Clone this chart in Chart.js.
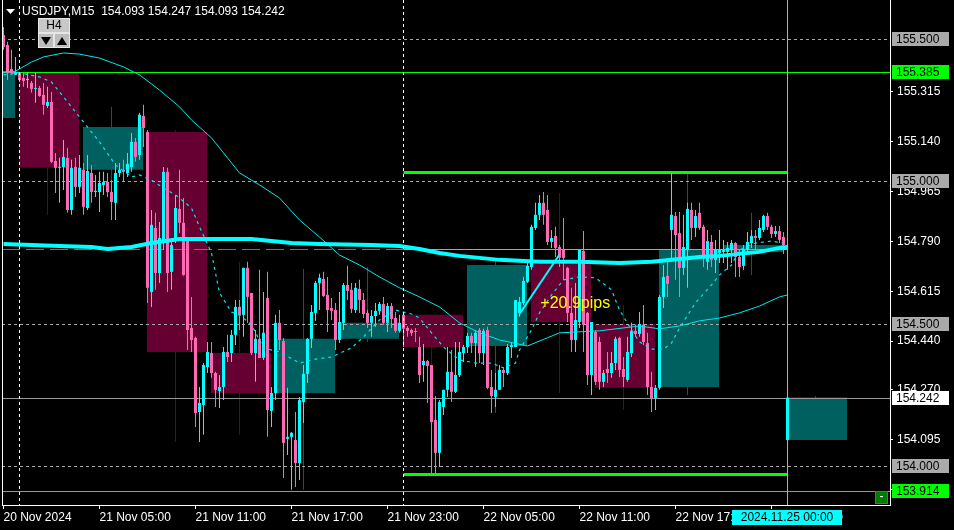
<!DOCTYPE html>
<html>
<head>
<meta charset="utf-8">
<script src="https://cdn.jsdelivr.net/npm/chart.js@4.4.1/dist/chart.umd.min.js"></script>
<style>
  html, body { margin: 0; padding: 0; background: #000; }
  #wrap { width: 954px; height: 530px; }
  canvas { display: block; background: #000; }
</style>
</head>
<body>
<div id="wrap"><canvas id="chart" width="954" height="530"></canvas></div>
<script>
// USDJPY M15, 20 Nov 23:00 -> 22 Nov 23:45, plus the first bar of 25 Nov
const opens = [
  155.514, 155.479, 155.395, 155.374, 155.381, 155.363, 155.356, 155.346, 155.325, 155.328,
  155.304, 155.265, 155.279, 155.072, 155.048, 155.051, 155.083, 154.900, 155.051, 154.981,
  155.041, 154.907, 155.030, 154.963, 154.963, 154.988, 154.998, 154.963, 154.925, 155.030,
  155.041, 155.030, 155.051, 155.139, 155.093, 155.230, 155.174, 154.612, 154.837, 154.679,
  154.788, 155.034, 154.683, 154.795, 154.904, 154.855, 154.795, 154.486, 154.451, 154.191,
  154.216, 154.349, 154.398, 154.328, 154.265, 154.279, 154.402, 154.398, 154.462, 154.560,
  154.532, 154.697, 154.609, 154.398, 154.448, 154.381, 154.591, 154.195, 154.258, 154.504,
  154.440, 154.097, 154.104, 154.093, 154.012, 154.226, 154.325, 154.448, 154.539, 154.644,
  154.658, 154.602, 154.556, 154.549, 154.444, 154.504, 154.637, 154.620, 154.549, 154.623,
  154.584, 154.539, 154.504, 154.528, 154.546, 154.570, 154.504, 154.563, 154.521, 154.476,
  154.532, 154.486, 154.479, 154.472, 154.419, 154.356, 154.370, 154.356, 154.163, 154.048,
  154.209, 154.269, 154.332, 154.262, 154.321, 154.398, 154.419, 154.458, 154.433, 154.479,
  154.398, 154.479, 154.279, 154.244, 154.269, 154.339, 154.328, 154.419, 154.419, 154.539,
  154.574, 154.648, 154.700, 154.837, 154.883, 154.925, 154.900, 154.788, 154.809, 154.770,
  154.760, 154.697, 154.539, 154.444, 154.507, 154.756, 154.539, 154.321, 154.472, 154.437,
  154.297, 154.342, 154.328, 154.363, 154.451, 154.342, 154.304, 154.398, 154.476, 154.465,
  154.497, 154.433, 154.279, 154.240, 154.276, 154.595, 154.669, 154.830, 154.879, 154.819,
  154.697, 154.763, 154.900, 154.837, 154.890, 154.841, 154.718, 154.788, 154.725, 154.749,
  154.753, 154.753, 154.760, 154.784, 154.735, 154.704, 154.760, 154.784, 154.809, 154.802,
  154.830, 154.879, 154.841, 154.816, 154.826, 154.805, 154.093
];
const highs = [
  155.542, 155.490, 155.462, 155.437, 155.384, 155.381, 155.384, 155.353, 155.381, 155.335,
  155.346, 155.332, 155.314, 155.100, 155.083, 155.146, 155.118, 155.076, 155.083, 155.093,
  155.065, 155.093, 155.058, 155.023, 155.034, 155.034, 155.030, 155.005, 155.065, 155.065,
  155.076, 155.100, 155.170, 155.153, 155.241, 155.269, 155.181, 154.900, 154.890, 154.858,
  155.051, 155.048, 154.802, 154.953, 155.041, 154.942, 154.802, 154.595, 154.455, 154.279,
  154.363, 154.437, 154.437, 154.332, 154.321, 154.419, 154.462, 154.479, 154.584, 154.584,
  154.697, 154.718, 154.609, 154.479, 154.690, 154.612, 154.683, 154.279, 154.532, 154.549,
  154.451, 154.276, 154.121, 154.191, 154.244, 154.356, 154.451, 154.567, 154.651, 154.676,
  154.683, 154.665, 154.591, 154.574, 154.612, 154.644, 154.704, 154.644, 154.644, 154.655,
  154.609, 154.549, 154.549, 154.574, 154.577, 154.595, 154.574, 154.574, 154.542, 154.532,
  154.532, 154.493, 154.483, 154.486, 154.455, 154.430, 154.374, 154.356, 154.247, 154.233,
  154.269, 154.419, 154.409, 154.437, 154.437, 154.426, 154.469, 154.469, 154.479, 154.486,
  154.483, 154.490, 154.339, 154.328, 154.356, 154.349, 154.430, 154.437, 154.584, 154.595,
  154.665, 154.714, 154.848, 154.925, 154.953, 154.963, 154.953, 154.830, 154.841, 154.777,
  154.872, 154.700, 154.627, 154.644, 154.760, 154.826, 154.542, 154.507, 154.479, 154.455,
  154.339, 154.402, 154.402, 154.455, 154.455, 154.384, 154.455, 154.504, 154.497, 154.542,
  154.567, 154.469, 154.332, 154.286, 154.602, 154.707, 154.725, 155.030, 154.893, 154.893,
  154.883, 154.925, 154.925, 154.900, 154.925, 154.848, 154.830, 154.812, 154.795, 154.830,
  154.795, 154.788, 154.795, 154.788, 154.760, 154.777, 154.823, 154.830, 154.830, 154.865,
  154.883, 154.890, 154.848, 154.844, 154.844, 154.823, 154.247
];
const lows = [
  155.462, 155.356, 155.374, 155.374, 155.349, 155.332, 155.328, 155.311, 155.276, 155.297,
  155.234, 155.258, 155.065, 154.960, 154.925, 154.970, 154.890, 154.883, 154.946, 154.960,
  154.883, 154.900, 154.925, 154.946, 154.893, 154.953, 154.946, 154.865, 154.865, 155.016,
  154.998, 155.016, 155.034, 155.069, 155.076, 155.121, 154.574, 154.560, 154.620, 154.644,
  154.760, 154.612, 154.620, 154.784, 154.819, 154.669, 154.409, 154.402, 154.139, 154.086,
  154.111, 154.328, 154.311, 154.209, 154.205, 154.233, 154.367, 154.367, 154.426, 154.479,
  154.455, 154.504, 154.391, 154.297, 154.381, 154.374, 154.104, 154.139, 154.233, 154.409,
  153.960, 154.040, 153.918, 153.928, 153.953, 154.153, 154.293, 154.416, 154.511, 154.549,
  154.595, 154.472, 154.514, 154.409, 154.433, 154.479, 154.584, 154.539, 154.539, 154.539,
  154.521, 154.486, 154.455, 154.490, 154.532, 154.497, 154.472, 154.486, 154.469, 154.469,
  154.419, 154.455, 154.458, 154.437, 154.293, 154.297, 154.223, 153.977, 153.977, 153.998,
  154.181, 154.244, 154.226, 154.258, 154.314, 154.367, 154.398, 154.398, 154.349, 154.363,
  154.356, 154.272, 154.188, 154.209, 154.269, 154.279, 154.321, 154.381, 154.419, 154.525,
  154.567, 154.644, 154.690, 154.830, 154.865, 154.848, 154.777, 154.767, 154.735, 154.700,
  154.655, 154.507, 154.402, 154.402, 154.486, 154.402, 154.286, 154.251, 154.286, 154.269,
  154.279, 154.293, 154.311, 154.339, 154.314, 154.279, 154.297, 154.384, 154.455, 154.455,
  154.426, 154.251, 154.191, 154.198, 154.269, 154.556, 154.595, 154.718, 154.655, 154.595,
  154.672, 154.627, 154.795, 154.805, 154.830, 154.700, 154.690, 154.700, 154.679, 154.714,
  154.714, 154.690, 154.714, 154.665, 154.665, 154.690, 154.749, 154.767, 154.760, 154.795,
  154.823, 154.830, 154.802, 154.805, 154.784, 154.746, 154.093
];
const closes = [
  155.472, 155.381, 155.381, 155.384, 155.356, 155.353, 155.360, 155.325, 155.328, 155.300,
  155.269, 155.279, 155.069, 155.048, 155.051, 155.086, 154.900, 155.048, 154.981, 155.048,
  154.911, 155.037, 154.963, 154.967, 154.995, 154.998, 154.963, 154.928, 155.030, 155.041,
  155.034, 155.062, 155.139, 155.086, 155.234, 155.188, 154.627, 154.848, 154.679, 154.802,
  155.034, 154.679, 154.777, 154.907, 154.855, 154.672, 154.479, 154.444, 154.188, 154.223,
  154.356, 154.402, 154.328, 154.269, 154.279, 154.402, 154.384, 154.462, 154.560, 154.532,
  154.697, 154.595, 154.398, 154.448, 154.381, 154.469, 154.198, 154.258, 154.504, 154.444,
  154.083, 154.104, 154.118, 154.012, 154.233, 154.325, 154.448, 154.542, 154.644, 154.662,
  154.598, 154.549, 154.546, 154.444, 154.507, 154.637, 154.616, 154.553, 154.627, 154.584,
  154.535, 154.504, 154.528, 154.546, 154.570, 154.504, 154.563, 154.518, 154.476, 154.504,
  154.483, 154.476, 154.469, 154.472, 154.321, 154.370, 154.353, 154.156, 154.048, 154.226,
  154.269, 154.332, 154.262, 154.321, 154.402, 154.419, 154.458, 154.433, 154.469, 154.398,
  154.476, 154.276, 154.247, 154.269, 154.339, 154.328, 154.419, 154.426, 154.584, 154.577,
  154.651, 154.704, 154.841, 154.883, 154.925, 154.883, 154.788, 154.802, 154.767, 154.732,
  154.732, 154.539, 154.444, 154.514, 154.760, 154.497, 154.321, 154.507, 154.297, 154.297,
  154.328, 154.328, 154.363, 154.448, 154.339, 154.314, 154.402, 154.476, 154.465, 154.500,
  154.437, 154.279, 154.240, 154.276, 154.595, 154.665, 154.641, 154.883, 154.812, 154.697,
  154.770, 154.904, 154.837, 154.879, 154.837, 154.742, 154.791, 154.725, 154.760, 154.760,
  154.760, 154.767, 154.784, 154.735, 154.700, 154.760, 154.788, 154.809, 154.802, 154.837,
  154.879, 154.841, 154.816, 154.826, 154.795, 154.777, 154.242
];

// H4 candles drawn as boxes behind the M15 bars (start = first M15 bar index)
const h4Start = [-12, 4, 20, 36, 52, 68, 84, 100, 116, 132, 148, 164, 180, 196];
const h4Open  = [155.223, 155.381, 155.041, 155.174, 154.398, 154.258, 154.448, 154.532, 154.423, 154.711, 154.500, 154.279, 154.753, 154.093];
const h4Close = [155.388, 155.048, 155.191, 154.402, 154.258, 154.448, 154.504, 154.419, 154.707, 154.507, 154.276, 154.763, 154.777, 154.242];
const h4High  = [155.400, 155.381, 155.262, 155.181, 154.718, 154.693, 154.700, 154.532, 154.725, 154.960, 154.567, 155.030, 154.890, 154.247];
const h4Low   = [155.200, 154.883, 154.865, 154.086, 154.111, 153.918, 154.437, 153.977, 154.188, 154.258, 154.198, 154.251, 154.672, 154.093];

// moving averages, read at sample bars
const maSlowIdx = [0, 14, 22, 26, 32, 37, 44, 52, 62, 72, 79, 92, 99, 104, 109, 114, 119, 124, 134, 144, 154, 162, 164, 169, 174, 179, 184, 189, 194, 196];
const maSlowVal = [154.781, 154.774, 154.770, 154.763, 154.770, 154.784, 154.798, 154.798, 154.798, 154.784, 154.781, 154.777, 154.774, 154.763, 154.749, 154.739, 154.732, 154.725, 154.718, 154.718, 154.714, 154.718, 154.721, 154.728, 154.735, 154.739, 154.746, 154.753, 154.767, 154.770];
const maMidIdx = [0, 3, 7, 10, 15, 19, 24, 30, 34, 39, 44, 47, 52, 59, 64, 69, 74, 79, 84, 89, 94, 99, 104, 109, 114, 119, 124, 131, 139, 149, 159, 164, 169, 174, 179, 184, 189, 194, 196];
const maMidVal = [155.384, 155.387, 155.419, 155.437, 155.451, 155.447, 155.433, 155.402, 155.374, 155.321, 155.262, 155.216, 155.153, 155.030, 154.988, 154.942, 154.865, 154.805, 154.742, 154.707, 154.665, 154.627, 154.595, 154.560, 154.504, 154.469, 154.444, 154.423, 154.469, 154.476, 154.493, 154.483, 154.493, 154.511, 154.521, 154.539, 154.563, 154.595, 154.602];
const maFastIdx = [0, 4, 9, 12, 15, 19, 24, 28, 32, 34, 37, 40, 43, 47, 49, 52, 54, 57, 59, 62, 65, 69, 74, 78, 82, 87, 90, 94, 98, 102, 104, 107, 110, 114, 118, 122, 125, 128, 129, 132, 134, 137, 140, 144, 148, 152, 154, 157, 159, 162, 165, 167, 169, 173, 177, 179, 182, 184, 188, 192, 195];
const maFastVal = [155.374, 155.381, 155.367, 155.349, 155.297, 155.226, 155.139, 155.058, 155.016, 155.023, 155.005, 154.977, 154.953, 154.907, 154.841, 154.749, 154.609, 154.542, 154.532, 154.497, 154.416, 154.402, 154.363, 154.377, 154.384, 154.416, 154.455, 154.514, 154.549, 154.535, 154.521, 154.469, 154.419, 154.374, 154.363, 154.363, 154.346, 154.363, 154.409, 154.479, 154.539, 154.602, 154.655, 154.665, 154.662, 154.620, 154.549, 154.479, 154.437, 154.412, 154.412, 154.433, 154.486, 154.574, 154.637, 154.672, 154.707, 154.760, 154.784, 154.791, 154.784];

// trade line and its label
const tradeIdx = [129, 139];
const tradeVal = [154.535, 154.744];
const tradeText = '+20.9pips';
const tradeTextAt = [134.2, 154.556];

// levels
const roundLevels = [155.5, 155.0, 154.5, 154.0];
const outerLevels = [155.385, 153.914];
const dayRangeLevels = [155.032, 153.973];
const midLevel = 154.763;
const bidPrice = 154.242;
const daySeparators = [4, 100];
const dayStart = 100;
const currentBar = 196;

// axes
const priceTicks = [153.920, 154.095, 154.270, 154.440, 154.615, 154.790, 154.965, 155.140, 155.315];
const timeTickIdx = [0, 24, 48, 72, 96, 120, 144, 168, 192];
const timeTickLabels = ['20 Nov 2024', '21 Nov 05:00', '21 Nov 11:00', '21 Nov 17:00', '21 Nov 23:00', '22 Nov 05:00', '22 Nov 11:00', '22 Nov 17:00', '22 Nov 23:00'];
const axisTags = [
  { v: 155.500, bg: '#aaaaaa' },
  { v: 155.385, bg: '#00ff00' },
  { v: 155.000, bg: '#aaaaaa' },
  { v: 154.500, bg: '#aaaaaa' },
  { v: 154.242, bg: '#ffffff' },
  { v: 154.000, bg: '#aaaaaa' },
  { v: 153.914, bg: '#00ff00' }
];

const BULL = '#00ffff', BEAR = '#ff69b4', DOJI = '#00ff00';
const H4_BULL = '#005f5f', H4_BEAR = '#660033';
const FONT = '"Liberation Sans", Arial, sans-serif';

const bars = opens.map((_, i) => i);
const candleColor = bars.map(i => closes[i] > opens[i] ? BULL : (closes[i] < opens[i] ? BEAR : DOJI));
const h4Color = h4Start.map((_, k) => h4Close[k] >= h4Open[k] ? H4_BULL : H4_BEAR);
const pts = (xs, ys) => xs.map((v, k) => ({ x: v, y: ys[k] }));

function drawLevels(chart) {
  const { ctx, chartArea: a, scales: { x, y } } = chart;
  const py = v => Math.round(y.getPixelForValue(v)) + 0.5;
  const px = v => Math.floor(x.getPixelForValue(v)) + 0.5;
  ctx.save();
  ctx.beginPath();
  ctx.rect(a.left, a.top, a.right - a.left, a.bottom - a.top);
  ctx.clip();
  const hline = (v, x0, x1, color, w, dash) => {
    ctx.strokeStyle = color;
    ctx.lineWidth = w;
    ctx.setLineDash(dash || []);
    ctx.beginPath();
    ctx.moveTo(x0, py(v));
    ctx.lineTo(x1, py(v));
    ctx.stroke();
  };
  roundLevels.forEach(v => hline(v, a.left, a.right, '#a8a8a8', 1, [3, 3]));
  hline(midLevel, a.left, px(dayStart), '#00c000', 1, [18, 6]);
  hline(midLevel, px(dayStart), px(currentBar), '#33ff00', 1);
  hline(bidPrice, a.left, a.right, '#9a9a9a', 1);
  outerLevels.forEach(v => hline(v, a.left, a.right, '#00ff00', 1));
  dayRangeLevels.forEach(v => hline(v, px(dayStart), px(currentBar), '#00ff00', 3));
  ctx.restore();
}

const overlay = {
  id: 'overlay',
  afterDatasetDraw(chart, args) {
    // level lines sit above the H4 boxes but under the M15 bars
    if (chart.data.datasets[args.index].label === 'H4 wicks') drawLevels(chart);
  },
  afterDatasetsDraw(chart) {
    const { ctx, chartArea: a, scales: { x, y } } = chart;
    const px = v => Math.floor(x.getPixelForValue(v)) + 0.5;
    ctx.save();
    ctx.lineWidth = 1;
    ctx.strokeStyle = '#ffffff';
    ctx.setLineDash([3, 3]);
    daySeparators.forEach(i => {
      ctx.beginPath();
      ctx.moveTo(px(i), a.top);
      ctx.lineTo(px(i), a.bottom);
      ctx.stroke();
    });
    ctx.setLineDash([]);
    ctx.strokeStyle = '#40e0e0';
    ctx.beginPath();
    ctx.moveTo(px(currentBar), a.top);
    ctx.lineTo(px(currentBar), a.bottom);
    ctx.stroke();

    ctx.fillStyle = '#ffff00';
    ctx.font = '16px ' + FONT;
    ctx.textBaseline = 'alphabetic';
    ctx.fillText(tradeText, x.getPixelForValue(tradeTextAt[0]), y.getPixelForValue(tradeTextAt[1]));
    ctx.restore();
  },
  afterDraw(chart) {
    const { ctx, chartArea: a, scales: { x, y } } = chart;
    ctx.save();
    // left frame
    ctx.strokeStyle = '#ffffff';
    ctx.lineWidth = 1;
    ctx.beginPath();
    ctx.moveTo(a.left + 0.5, a.top);
    ctx.lineTo(a.left + 0.5, a.bottom);
    ctx.stroke();

    // price tags on the right axis
    ctx.font = '12px ' + FONT;
    ctx.textBaseline = 'middle';
    axisTags.forEach(t => {
      const yy = Math.round(y.getPixelForValue(t.v));
      ctx.fillStyle = t.bg;
      ctx.fillRect(a.right + 2, yy - 7, 57, 14);
      ctx.fillStyle = '#000000';
      ctx.fillText(t.v.toFixed(3), a.right + 6, yy + 0.5);
    });

    // header
    ctx.fillStyle = '#ffffff';
    ctx.beginPath();
    ctx.moveTo(6, 9); ctx.lineTo(15, 9); ctx.lineTo(10.5, 14); ctx.closePath();
    ctx.fill();
    ctx.fillText('USDJPY,M15  154.093 154.247 154.093 154.242', 22, 12);

    // H4 switch
    ctx.fillStyle = '#c8c8c8';
    ctx.fillRect(38, 18, 32, 15);
    ctx.fillStyle = '#bdbdbd';
    ctx.fillRect(38, 33, 16, 15);
    ctx.fillRect(54, 33, 16, 15);
    ctx.strokeStyle = '#e6e6e6';
    ctx.strokeRect(38.5, 18.5, 31, 14);
    ctx.strokeRect(38.5, 33.5, 15, 14);
    ctx.strokeRect(54.5, 33.5, 15, 14);
    ctx.fillStyle = '#000000';
    ctx.textAlign = 'center';
    ctx.fillText('H4', 54, 26);
    ctx.beginPath();
    ctx.moveTo(41, 37); ctx.lineTo(51, 37); ctx.lineTo(46, 45); ctx.closePath();
    ctx.moveTo(57, 45); ctx.lineTo(67, 45); ctx.lineTo(62, 37); ctx.closePath();
    ctx.fill();

    // current bar time on the time axis
    const cx = Math.floor(x.getPixelForValue(currentBar));
    ctx.fillStyle = '#00ffff';
    ctx.fillRect(cx - 55, 510, 110, 15);
    ctx.fillStyle = '#000000';
    ctx.fillText('2024.11.25 00:00', cx, 517.5);

    // small scroll box bottom-right
    ctx.fillStyle = '#007a00';
    ctx.fillRect(a.right - 15, a.bottom - 14, 13, 13);
    ctx.strokeStyle = '#00b000';
    ctx.strokeRect(a.right - 14.5, a.bottom - 13.5, 12, 12);
    ctx.fillStyle = '#ffffff';
    ctx.fillText('-', a.right - 8.5, a.bottom - 8);
    ctx.restore();
  }
};

Chart.defaults.font.family = FONT;
Chart.defaults.color = '#ffffff';

new Chart(document.getElementById('chart'), {
  type: 'bar',
  data: {
    datasets: [
      {
        type: 'line', label: 'Trade', order: 0,
        data: pts(tradeIdx, tradeVal),
        borderColor: '#00ffff', borderWidth: 2, pointRadius: 0
      },
      {
        type: 'line', label: 'MA slow', order: 1,
        data: pts(maSlowIdx, maSlowVal),
        borderColor: '#00ffff', borderWidth: 4, pointRadius: 0
      },
      {
        type: 'line', label: 'MA mid', order: 2,
        data: pts(maMidIdx, maMidVal),
        borderColor: '#00e8e8', borderWidth: 1, pointRadius: 0
      },
      {
        type: 'line', label: 'MA fast', order: 3,
        data: pts(maFastIdx, maFastVal),
        borderColor: '#00e8e8', borderWidth: 1.2, borderDash: [3, 4], pointRadius: 0
      },
      {
        label: 'Bodies', order: 4,
        data: bars.map(i => ({ x: i, y: [opens[i], closes[i]] })),
        backgroundColor: candleColor, barThickness: 3, minBarLength: 1
      },
      {
        label: 'Wicks', order: 5,
        data: bars.map(i => ({ x: i, y: [lows[i], highs[i]] })),
        backgroundColor: candleColor, barThickness: 1
      },
      {
        label: 'H4 wicks', order: 6,
        data: h4Start.map((s, k) => ({ x: s + 7, y: [h4Low[k], h4High[k]] })),
        backgroundColor: h4Color, barThickness: 1
      },
      {
        label: 'H4', order: 7,
        // box spans the 16 M15 bars of the H4 candle
        data: h4Start.map((s, k) => ({ x: s + 7.375, y: [h4Open[k], h4Close[k]] })),
        backgroundColor: h4Color, barThickness: 60
      }
    ]
  },
  options: {
    responsive: false,
    animation: false,
    events: [],
    layout: { padding: { left: 2, right: 0, top: 0, bottom: 0 } },
    datasets: {
      bar: { grouped: false, borderWidth: 0, inflateAmount: 0 },
      line: { tension: 0, fill: false }
    },
    plugins: { legend: { display: false }, tooltip: { enabled: false } },
    scales: {
      x: {
        type: 'linear',
        offset: false,
        min: -0.375,
        max: 221.625,
        afterBuildTicks: s => { s.ticks = timeTickIdx.map(v => ({ value: v })); },
        afterFit: s => { s.height = 25; s.paddingLeft = 0; s.paddingRight = 0; },
        ticks: {
          autoSkip: false, maxRotation: 0, align: 'start', padding: 1,
          color: '#ffffff', font: { size: 12 },
          callback: v => { const k = timeTickIdx.indexOf(v); return k < 0 ? '' : timeTickLabels[k]; }
        },
        grid: { offset: false, drawOnChartArea: false, drawTicks: true, tickLength: 4, color: '#ffffff' },
        border: { display: true, color: '#ffffff' }
      },
      y: {
        type: 'linear',
        position: 'right',
        min: 153.8649,
        max: 155.6368,
        afterBuildTicks: s => { s.ticks = priceTicks.map(v => ({ value: v })); },
        afterFit: s => { s.width = 64; s.paddingTop = 0; s.paddingBottom = 0; },
        ticks: {
          autoSkip: false, padding: 4, color: '#ffffff', font: { size: 12 },
          callback: v => v.toFixed(3)
        },
        grid: { drawOnChartArea: false, drawTicks: true, tickLength: 3, color: '#ffffff' },
        border: { display: true, color: '#ffffff' }
      }
    }
  },
  plugins: [overlay]
});
</script>
</body>
</html>
